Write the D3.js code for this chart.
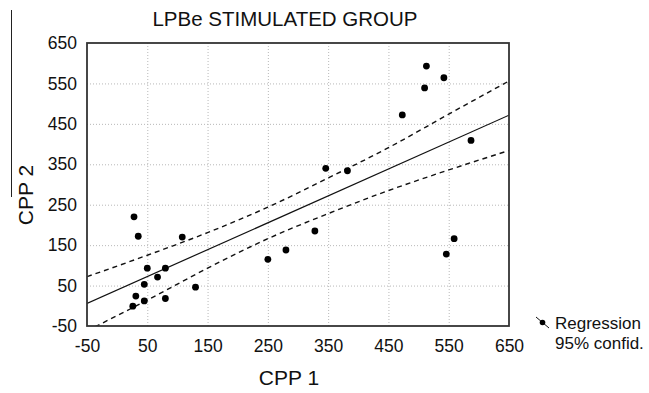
<!DOCTYPE html>
<html>
<head>
<meta charset="utf-8">
<script src="https://cdn.jsdelivr.net/npm/d3@7"></script>
<style>
  body { margin: 0; background: #fff; }
  svg { display: block; font-family: "Liberation Sans", Arial, sans-serif; }
  .grid line { stroke: #b8b8b8; stroke-dasharray: 1,2; }
  .grid .domain { display: none; }
  .axis .domain, .axis line { display: none; }
  .axis text { font-size: 17.5px; fill: #111; font-family: "Liberation Sans", Arial, sans-serif; }
</style>
</head>
<body>
<div id="chart"></div>
<script>
// data
const cpp1 = [28, 35, 108, 50, 80, 67, 45, 31, 45, 26, 80, 130, 250, 280, 328, 346, 382, 473, 513, 510, 542, 587, 559, 546];
const cpp2 = [220, 172, 170, 93, 93, 71, 53, 24, 12, -1, 18, 46, 115, 138, 185, 340, 334, 472, 593, 539, 564, 409, 166, 128];

// 95% confidence band, read at a few x positions
const bandX = [-50, 50, 150, 250, 350, 450, 550, 650];
const bandUpper = [72, 125, 181, 244, 316, 391, 474, 556];
const bandLower = [-62, 14, 93, 166, 228, 285, 336, 384];

const tickValues = [-50, 50, 150, 250, 350, 450, 550, 650];
const gridValues = [50, 150, 250, 350, 450, 550];

const W = 649, H = 393;
const margin = { top: 43, right: 140, bottom: 67, left: 87 };
const width = W - margin.left - margin.right;
const height = H - margin.top - margin.bottom;

const svg = d3.select("#chart").append("svg")
    .attr("width", W)
    .attr("height", H);

svg.append("rect").attr("width", W).attr("height", H).attr("fill", "#fff");

const chart = svg.append("g")
    .attr("transform", `translate(${margin.left},${margin.top})`);

const x = d3.scaleLinear().domain([-50, 650]).range([0, width]);
const y = d3.scaleLinear().domain([-50, 650]).range([height, 0]);

// plain hyphen for negatives, like the original
const fmt = d => String(d);

// gridlines
chart.append("g")
    .attr("class", "grid")
    .attr("transform", `translate(0,${height})`)
    .call(d3.axisBottom(x).tickValues(gridValues).tickSize(-height).tickFormat(""));
chart.append("g")
    .attr("class", "grid")
    .call(d3.axisLeft(y).tickValues(gridValues).tickSize(-width).tickFormat(""));

// axes (labels only)
chart.append("g")
    .attr("class", "axis")
    .attr("transform", `translate(0,${height})`)
    .call(d3.axisBottom(x).tickValues(tickValues).tickSize(0).tickPadding(13.5).tickFormat(fmt));
chart.append("g")
    .attr("class", "axis")
    .call(d3.axisLeft(y).tickValues(tickValues).tickSize(0).tickPadding(10).tickFormat(fmt));

// clip for lines
svg.append("defs").append("clipPath").attr("id", "plotClip")
    .append("rect").attr("width", width).attr("height", height);

const plot = chart.append("g").attr("clip-path", "url(#plotClip)");

// least squares regression
const n = cpp1.length;
const mx = d3.mean(cpp1), my = d3.mean(cpp2);
let sxy = 0, sxx = 0;
for (let i = 0; i < n; i++) {
    sxy += (cpp1[i] - mx) * (cpp2[i] - my);
    sxx += (cpp1[i] - mx) ** 2;
}
const slope = sxy / sxx;
const intercept = my - slope * mx;
const regX = x.domain();

plot.append("line")
    .attr("x1", x(regX[0])).attr("y1", y(intercept + slope * regX[0]))
    .attr("x2", x(regX[1])).attr("y2", y(intercept + slope * regX[1]))
    .attr("stroke", "#111")
    .attr("stroke-width", 1.2);

const bandLine = d3.line()
    .x(d => x(d[0]))
    .y(d => y(d[1]))
    .curve(d3.curveMonotoneX);

[bandUpper, bandLower].forEach(vals => {
    plot.append("path")
        .attr("d", bandLine(bandX.map((v, i) => [v, vals[i]])))
        .attr("fill", "none")
        .attr("stroke", "#111")
        .attr("stroke-width", 1.4)
        .attr("stroke-dasharray", "5,4");
});

// points
chart.append("g").selectAll("circle")
    .data(cpp1.map((v, i) => [v, cpp2[i]]))
    .join("circle")
    .attr("cx", d => x(d[0]))
    .attr("cy", d => y(d[1]))
    .attr("r", 3.4)
    .attr("fill", "#000");

// frame
chart.append("rect")
    .attr("width", width)
    .attr("height", height)
    .attr("fill", "none")
    .attr("stroke", "#333")
    .attr("stroke-width", 1.8);

// title & axis titles
svg.append("text")
    .attr("x", 285).attr("y", 26)
    .attr("text-anchor", "middle")
    .style("font-size", "20.5px")
    .attr("fill", "#111")
    .text("LPBe STIMULATED GROUP");

svg.append("text")
    .attr("x", 289).attr("y", 385)
    .attr("text-anchor", "middle")
    .style("font-size", "21px")
    .attr("fill", "#111")
    .text("CPP 1");

svg.append("text")
    .attr("transform", "translate(33,195) rotate(-90)")
    .attr("text-anchor", "middle")
    .style("font-size", "21px")
    .attr("fill", "#111")
    .text("CPP 2");

// stray border line on the left
svg.append("line")
    .attr("x1", 11.5).attr("y1", 10).attr("x2", 11.5).attr("y2", 197)
    .attr("stroke", "#222").attr("stroke-width", 1);

// legend
const legend = svg.append("g");
legend.append("line")
    .attr("x1", 536).attr("y1", 317).attr("x2", 549).attr("y2", 328)
    .attr("stroke", "#111").attr("stroke-width", 1);
legend.append("circle")
    .attr("cx", 542.5).attr("cy", 322.5).attr("r", 2.8).attr("fill", "#000");
legend.append("text")
    .attr("x", 555).attr("y", 329)
    .style("font-size", "17px").attr("fill", "#111")
    .text("Regression");
legend.append("text")
    .attr("x", 555).attr("y", 349)
    .style("font-size", "17px").attr("fill", "#111")
    .text("95% confid.");
</script>
</body>
</html>
